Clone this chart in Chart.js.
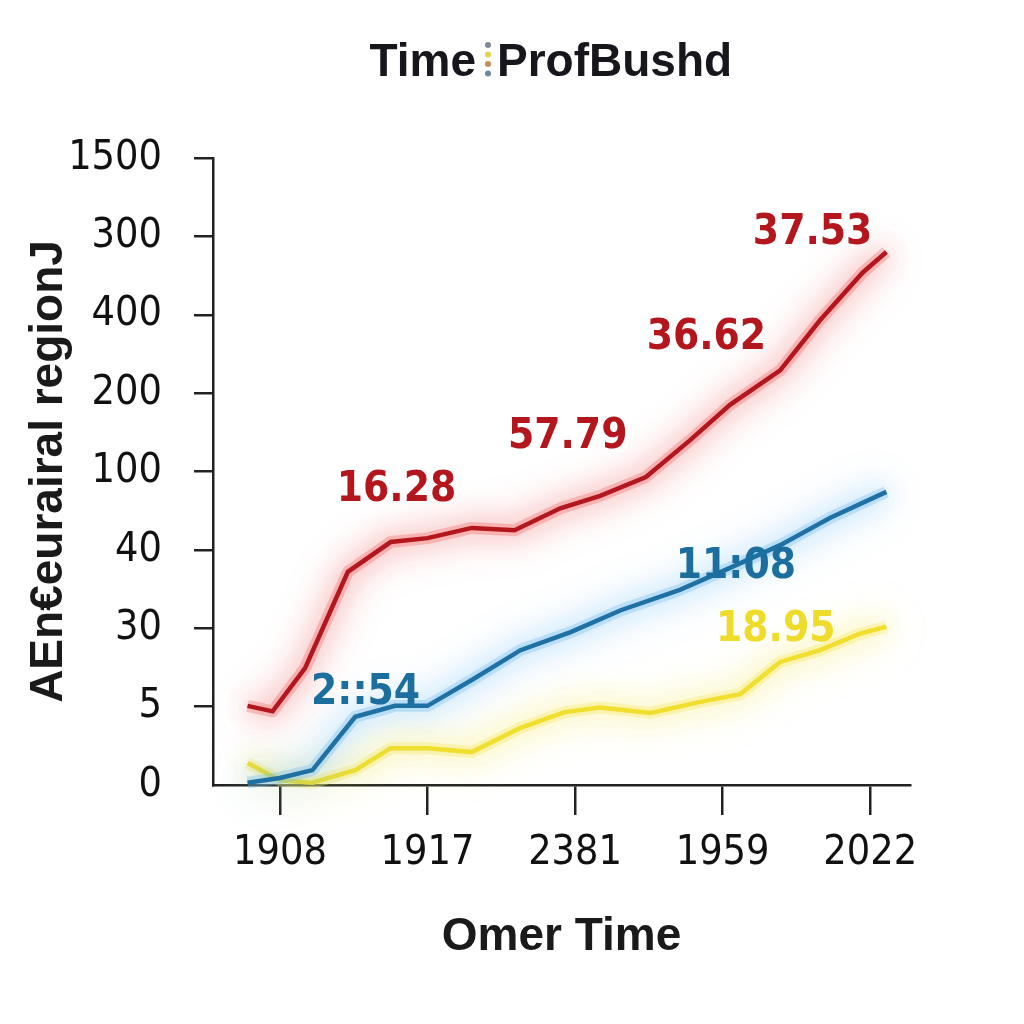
<!DOCTYPE html>
<html>
<head>
<meta charset="utf-8">
<style>
  html, body { margin: 0; padding: 0; background: #fff; }
  canvas { display: block; }
</style>
<script src="https://cdn.jsdelivr.net/npm/chart.js@4.4.1/dist/chart.umd.min.js"></script>
</head>
<body>
<canvas id="timeChart" width="1024" height="1024"></canvas>
<script>
// tick labels as printed on the picture
const xLabels = ['1908', '1917', '2381', '1959', '2022'];
const yLabels = ['0', '5', '30', '40', '100', '200', '400', '300', '1500'];

// series: x in tick slots (0 = 1908 ... 4 = 2022), y in label rows (0 = "0" ... 8 = "1500")
const redX = [-0.22, -0.05, 0.17, 0.46, 0.75, 1.0, 1.3, 1.59, 1.9, 2.17, 2.48, 2.78, 3.05, 3.39, 3.66, 3.95, 4.11];
const redY = [1.01, 0.94, 1.49, 2.72, 3.10, 3.15, 3.28, 3.25, 3.53, 3.69, 3.93, 4.40, 4.85, 5.29, 5.93, 6.54, 6.80];
const blueX = [-0.22, 0.0, 0.22, 0.51, 0.78, 1.0, 1.3, 1.63, 1.97, 2.31, 2.71, 3.05, 3.39, 3.73, 4.11];
const blueY = [0.03, 0.09, 0.19, 0.87, 1.01, 1.01, 1.34, 1.72, 1.95, 2.23, 2.49, 2.77, 3.06, 3.41, 3.74];
const yellowX = [-0.22, 0.0, 0.22, 0.51, 0.75, 1.0, 1.3, 1.63, 1.93, 2.17, 2.51, 2.85, 3.12, 3.39, 3.66, 3.93, 4.11];
const yellowY = [0.28, 0.06, 0.03, 0.19, 0.47, 0.47, 0.42, 0.73, 0.93, 0.99, 0.92, 1.06, 1.16, 1.57, 1.72, 1.93, 2.02];

// value labels written next to the lines
const noteText = ['16.28', '57.79', '36.62', '37.53', '2::54', '11:08', '18.95'];
const noteX = [0.79, 1.95, 2.89, 3.61, 0.58, 3.09, 3.36];
const noteY = [3.76, 4.44, 5.70, 7.04, 1.17, 2.78, 1.98];
const noteColor = ['#b3161d', '#b3161d', '#b3161d', '#b3161d', '#1b6e9e', '#1b6e9e', '#eedb2a'];

const RED = '#b3161d';
const BLUE = '#1f70a3';
const YELLOW = '#f0df2e';

const toPoints = (xs, ys) => xs.map((x, i) => ({ x: x, y: ys[i] }));

// soft halo under each line, then the line itself drawn with a shadow glow
const glowPlugin = {
    id: 'glow',
    beforeDatasetDraw(chart, args) {
        const ds = chart.data.datasets[args.index];
        const ctx = chart.ctx;
        const pts = args.meta.data;
        ctx.save();
        ctx.shadowColor = ds.glowColor;
        ctx.shadowBlur = 44;
        ctx.strokeStyle = ds.haloColor;
        ctx.lineWidth = 12;
        ctx.lineJoin = 'round';
        ctx.beginPath();
        pts.forEach((p, i) => i ? ctx.lineTo(p.x, p.y) : ctx.moveTo(p.x, p.y));
        ctx.stroke();
        ctx.restore();
        ctx.save();
        ctx.shadowColor = ds.glowColor;
        ctx.shadowBlur = 26;
    },
    afterDatasetDraw(chart) {
        chart.ctx.restore();
    }
};

const notesPlugin = {
    id: 'notes',
    afterDatasetsDraw(chart) {
        const ctx = chart.ctx;
        const xs = chart.scales.x, ys = chart.scales.y;
        ctx.save();
        ctx.font = 'bold 42px "DejaVu Sans Condensed", "Liberation Sans Narrow", sans-serif';
        ctx.textAlign = 'center';
        ctx.textBaseline = 'middle';
        noteText.forEach((t, i) => {
            ctx.fillStyle = noteColor[i];
            ctx.fillText(t, xs.getPixelForValue(noteX[i]), ys.getPixelForValue(noteY[i]));
        });
        ctx.restore();
    }
};

const titlePlugin = {
    id: 'headTitle',
    afterDraw(chart) {
        const ctx = chart.ctx;
        ctx.save();
        ctx.font = 'bold 46px "Liberation Sans", Arial, sans-serif';
        ctx.fillStyle = '#16161c';
        ctx.textBaseline = 'alphabetic';
        ctx.textAlign = 'right';
        ctx.fillText('Time', 476, 76);
        ctx.textAlign = 'left';
        ctx.fillText('ProfBushd', 497, 76);
        const dots = ['#7f8a96', '#e6d24a', '#c98a5a', '#6f8aa0'];
        dots.forEach((c, i) => {
            ctx.fillStyle = c;
            ctx.beginPath();
            ctx.arc(488, 45 + i * 9.5, 3, 0, Math.PI * 2);
            ctx.fill();
        });
        ctx.restore();
    }
};

const tickFont = { family: '"Liberation Sans Narrow", "DejaVu Sans Condensed", sans-serif', size: 41 };
const axisTitleFont = { family: '"Liberation Sans", Arial, sans-serif', size: 46, weight: 'bold' };

new Chart(document.getElementById('timeChart'), {
    type: 'line',
    data: {
        datasets: [
            { data: toPoints(redX, redY), borderColor: RED, glowColor: 'rgba(235,50,50,0.85)', haloColor: 'rgba(240,110,110,0.35)', borderWidth: 4.5, pointRadius: 0, tension: 0 },
            { data: toPoints(blueX, blueY), borderColor: BLUE, glowColor: 'rgba(70,170,240,0.85)', haloColor: 'rgba(120,190,240,0.35)', borderWidth: 4.5, pointRadius: 0, tension: 0 },
            { data: toPoints(yellowX, yellowY), borderColor: YELLOW, glowColor: 'rgba(245,228,60,0.9)', haloColor: 'rgba(245,235,120,0.4)', borderWidth: 4.5, pointRadius: 0, tension: 0 }
        ]
    },
    options: {
        responsive: false,
        animation: false,
        layout: { padding: { top: 158, right: 114, left: 0, bottom: 55 } },
        plugins: { legend: { display: false }, tooltip: { enabled: false } },
        scales: {
            x: {
                type: 'linear',
                min: -0.454,
                max: 4.27,
                afterBuildTicks: s => { s.ticks = xLabels.map((_, i) => ({ value: i })); },
                afterFit: s => { s.height = 184; },
                ticks: { callback: v => xLabels[v], font: tickFont, color: '#111', padding: 14, maxRotation: 0 },
                grid: { drawOnChartArea: false, drawTicks: true, tickLength: 30, color: '#222', lineWidth: 2.5 },
                border: { display: true, color: '#222', width: 2.5 },
                title: { display: true, text: 'Omer Time', font: axisTitleFont, color: '#1a1a1a', padding: { top: 14 } }
            },
            y: {
                type: 'linear',
                min: 0,
                max: 8,
                afterBuildTicks: s => { s.ticks = yLabels.map((_, i) => ({ value: i })); },
                afterFit: s => { s.width = 213; },
                ticks: { callback: v => yLabels[v], font: tickFont, color: '#111', padding: 32 },
                grid: {
                    drawOnChartArea: false, drawTicks: true, tickLength: 19, lineWidth: 2.5,
                    color: c => c.index === 0 ? 'rgba(0,0,0,0)' : '#222'
                },
                border: { display: true, color: '#222', width: 2.5 },
                title: { display: true, text: 'AEn€eurairal regionJ', font: axisTitleFont, color: '#1a1a1a', padding: { top: 22, bottom: 0 } }
            }
        }
    },
    plugins: [glowPlugin, notesPlugin, titlePlugin]
});
</script>
</body>
</html>
